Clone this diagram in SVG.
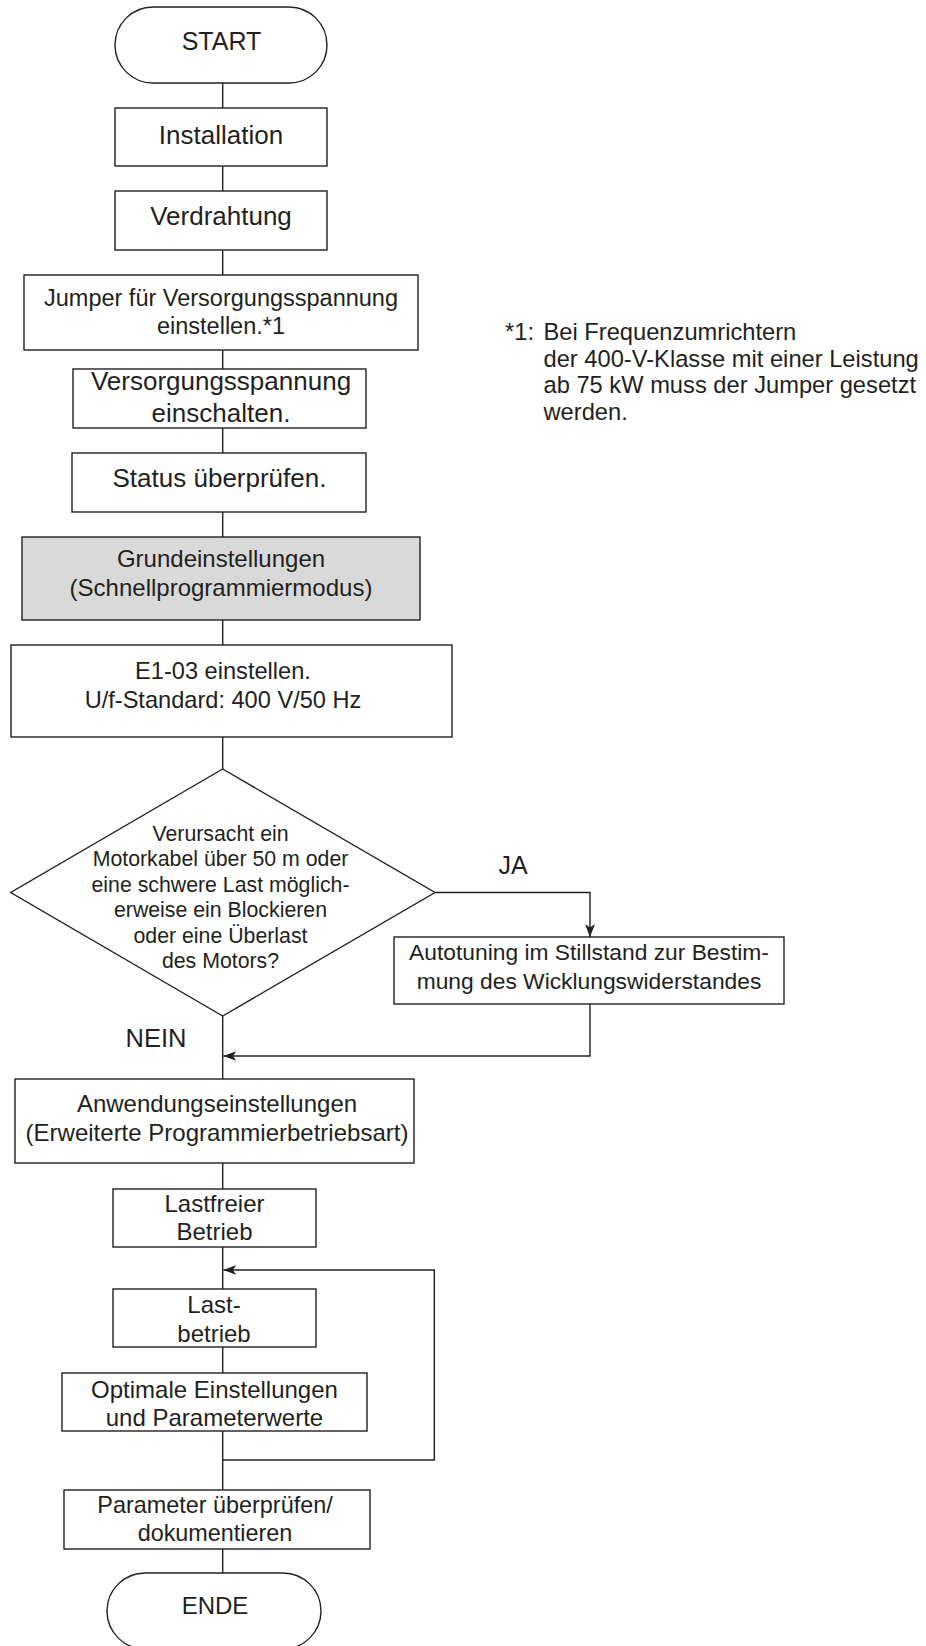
<svg xmlns="http://www.w3.org/2000/svg" width="926" height="1646" viewBox="0 0 926 1646">
<style>
.b{fill:#fff;stroke:#231f20;stroke-width:1.4}
.g{fill:#d9d9d9;stroke:#231f20;stroke-width:1.4}
.c{fill:none;stroke:#231f20;stroke-width:1.4}
text{font-family:"Liberation Sans",Arial,Helvetica,sans-serif;fill:#231f20;text-anchor:middle}
.l{text-anchor:start}
</style>
<defs>
<marker id="ah" viewBox="-13 -6 14 12" markerWidth="14" markerHeight="12" refX="0" refY="0" orient="auto" markerUnits="userSpaceOnUse">
<path d="M0,0 L-13,-5 L-9.5,0 L-13,5 Z" fill="#231f20"/>
</marker>
</defs>
<rect width="926" height="1646" fill="#fff"/>
<g id="connectors">
<path class="c" d="M222.7,83 V108 M222.7,166 V191 M222.7,250 V275 M222.7,350 V369 M222.7,428 V453 M222.7,512 V537 M222.7,620 V645 M222.7,737 V769 M222.7,1016 V1079 M222.7,1163 V1189 M222.7,1247 V1289 M222.7,1347 V1373 M222.7,1431 V1490 M222.7,1549 V1573"/>
<path class="c" d="M435,892.5 H590 V937" marker-end="url(#ah)"/>
<path class="c" d="M590,1004 V1056 H223.4" marker-end="url(#ah)"/>
<path class="c" d="M222.7,1460 H434.3 V1270 H223.4" marker-end="url(#ah)"/>
</g>
<g id="start"><rect class="b" x="115" y="7" width="212" height="76" rx="38" ry="38"/><text x="221.5" y="50" font-size="25">START</text></g>
<g id="installation"><rect class="b" x="115" y="108" width="212" height="58"/><text x="221" y="144" font-size="26">Installation</text></g>
<g id="verdrahtung"><rect class="b" x="115" y="191" width="212" height="59"/><text x="221" y="225" font-size="26">Verdrahtung</text></g>
<g id="jumper"><rect class="b" x="24" y="275" width="394" height="75"/><text x="221" y="306" font-size="23.5">Jumper für Versorgungsspannung</text><text x="221" y="334" font-size="23.5">einstellen.*1</text></g>
<g id="versorgung"><rect class="b" x="73" y="369" width="293" height="59"/><text x="221" y="390" font-size="26">Versorgungsspannung</text><text x="221" y="422" font-size="26">einschalten.</text></g>
<g id="status"><rect class="b" x="72" y="453" width="294" height="59"/><text x="219.5" y="487" font-size="26">Status überprüfen.</text></g>
<g id="grund"><rect class="g" x="22" y="537" width="398" height="83"/><text x="221" y="567" font-size="24">Grundeinstellungen</text><text x="221" y="596" font-size="24">(Schnellprogrammiermodus)</text></g>
<g id="e103"><rect class="b" x="11" y="645" width="441" height="92"/><text x="223" y="679" font-size="23.6">E1-03 einstellen.</text><text x="223" y="708" font-size="23.6">U/f-Standard: 400 V/50 Hz</text></g>
<g id="decision"><polygon class="b" points="222.7,769 435,892.5 222.7,1016 10.7,892.5"/>
<text x="220.5" y="840.7" font-size="21.3">Verursacht ein</text>
<text x="220.5" y="866" font-size="21.3">Motorkabel über 50 m oder</text>
<text x="220.5" y="891.7" font-size="21.3">eine schwere Last möglich-</text>
<text x="220.5" y="916.7" font-size="21.3">erweise ein Blockieren</text>
<text x="220.5" y="942.7" font-size="21.3">oder eine Überlast</text>
<text x="220.5" y="968.3" font-size="21.3">des Motors?</text>
</g>
<g id="ja"><text x="513" y="874" font-size="25">JA</text></g>
<g id="nein"><text x="156" y="1046.7" font-size="25.5">NEIN</text></g>
<g id="autotuning"><rect class="b" x="394" y="937" width="390" height="67"/><text x="589" y="960" font-size="22.8">Autotuning im Stillstand zur Bestim-</text><text x="589" y="989" font-size="22.8">mung des Wicklungswiderstandes</text></g>
<g id="anwendung"><rect class="b" x="15" y="1079" width="399" height="84"/><text x="217" y="1112" font-size="24">Anwendungseinstellungen</text><text x="217" y="1141" font-size="24">(Erweiterte Programmierbetriebsart)</text></g>
<g id="lastfrei"><rect class="b" x="113" y="1189" width="203" height="58"/><text x="214.5" y="1212" font-size="24">Lastfreier</text><text x="214.5" y="1240" font-size="24">Betrieb</text></g>
<g id="lastbetrieb"><rect class="b" x="113" y="1289" width="203" height="58"/><text x="214" y="1313" font-size="24">Last-</text><text x="214" y="1342" font-size="24">betrieb</text></g>
<g id="optimal"><rect class="b" x="62" y="1373" width="305" height="58"/><text x="214.5" y="1398" font-size="24">Optimale Einstellungen</text><text x="214.5" y="1426" font-size="24">und Parameterwerte</text></g>
<g id="parameter"><rect class="b" x="64" y="1490" width="306" height="59"/><text x="215" y="1513" font-size="23.4">Parameter überprüfen/</text><text x="215" y="1541" font-size="23.4">dokumentieren</text></g>
<g id="ende"><rect class="b" x="107" y="1573" width="214" height="76" rx="38" ry="38"/><text x="215" y="1614" font-size="24">ENDE</text></g>
<g id="footnote">
<text class="l" x="505" y="340" font-size="23.7">*1:</text>
<text class="l" x="543.5" y="340" font-size="23.7">Bei Frequenzumrichtern</text>
<text class="l" x="543.5" y="366.7" font-size="23.7">der 400-V-Klasse mit einer Leistung</text>
<text class="l" x="543.5" y="393.3" font-size="23.7">ab 75 kW muss der Jumper gesetzt</text>
<text class="l" x="543.5" y="420" font-size="23.7">werden.</text>
</g>
</svg>
